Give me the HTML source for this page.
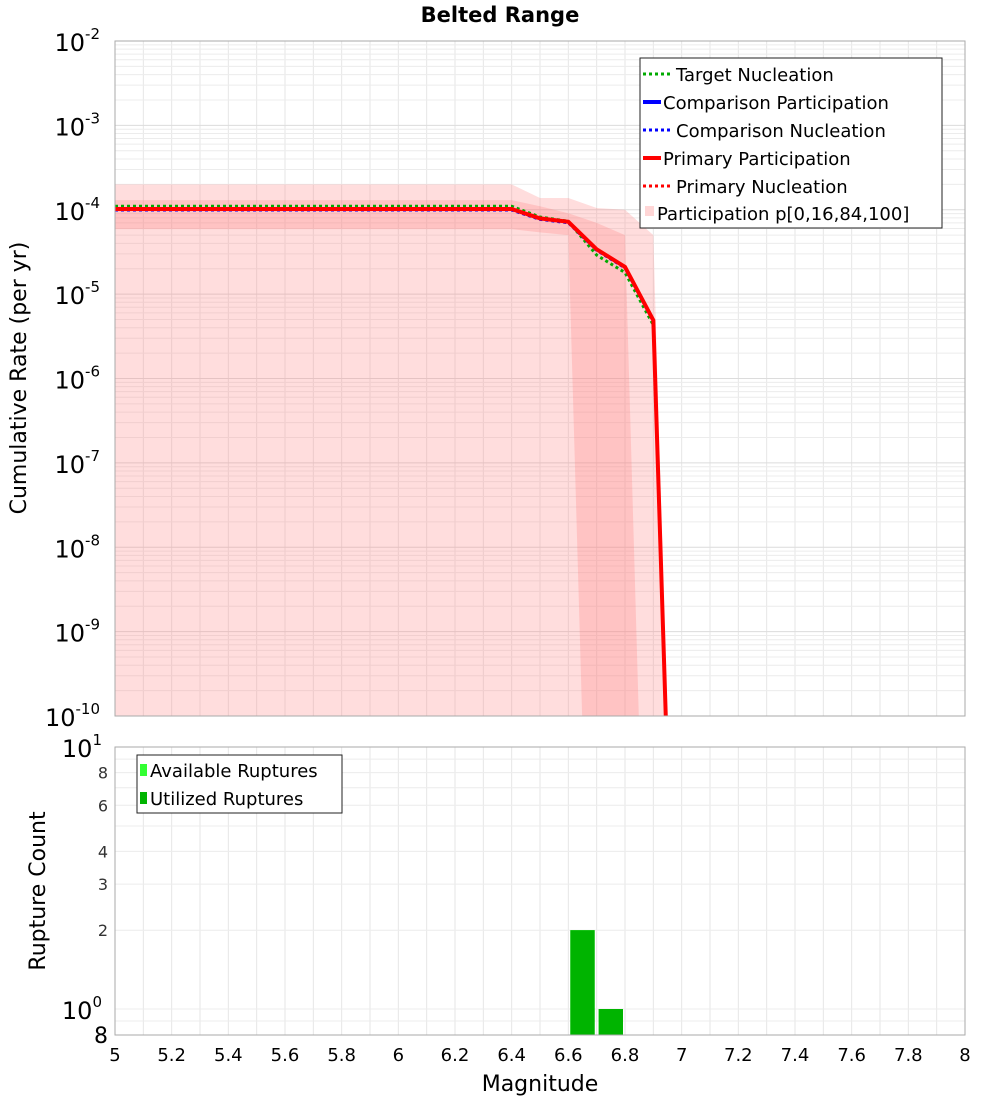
<!DOCTYPE html>
<html><head><meta charset="utf-8"><style>
body{margin:0;background:#fff;}
svg text{font-family:"DejaVu Sans","Liberation Sans",sans-serif;}
</style></head><body>
<svg id="c" width="1000" height="1100" xmlns="http://www.w3.org/2000/svg">
<defs>
<clipPath id="cp1"><rect x="115" y="41" width="850" height="675"/></clipPath>
<clipPath id="cp2"><rect x="115" y="747" width="850" height="288"/></clipPath>
</defs>
<g id="g"></g>
</svg>
<script>
const mags=[5.0,5.1,5.2,5.3,5.4,5.5,5.6,5.7,5.8,5.9,6.0,6.1,6.2,6.3,6.4,6.5,6.6,6.7,6.8,6.9,7.0];
const primaryPart=[1.02e-4,1.02e-4,1.02e-4,1.02e-4,1.02e-4,1.02e-4,1.02e-4,1.02e-4,1.02e-4,1.02e-4,1.02e-4,1.02e-4,1.02e-4,1.02e-4,1.02e-4,7.9e-5,7.2e-5,3.4e-5,2.1e-5,4.9e-6,0];
const targetNucl=[1.1e-4,1.1e-4,1.1e-4,1.1e-4,1.1e-4,1.1e-4,1.1e-4,1.1e-4,1.1e-4,1.1e-4,1.1e-4,1.1e-4,1.1e-4,1.1e-4,1.1e-4,8.2e-5,7.3e-5,2.9e-5,1.8e-5,4.3e-6,0];
const p0=[0,0,0,0,0,0,0,0,0,0,0,0,0,0,0,0,0,0,0,0,0];
const p100=[2.0e-4,2.0e-4,2.0e-4,2.0e-4,2.0e-4,2.0e-4,2.0e-4,2.0e-4,2.0e-4,2.0e-4,2.0e-4,2.0e-4,2.0e-4,2.0e-4,2.0e-4,1.38e-4,1.38e-4,1.05e-4,1.0e-4,5.0e-5,0];
const p16=[5.9e-5,5.9e-5,5.9e-5,5.9e-5,5.9e-5,5.9e-5,5.9e-5,5.9e-5,5.9e-5,5.9e-5,5.9e-5,5.9e-5,5.9e-5,5.9e-5,5.9e-5,5.4e-5,5.0e-5,0,0,0,0];
const p84=[1.3e-4,1.3e-4,1.3e-4,1.3e-4,1.3e-4,1.3e-4,1.3e-4,1.3e-4,1.3e-4,1.3e-4,1.3e-4,1.3e-4,1.3e-4,1.3e-4,1.3e-4,1.1e-4,9.1e-5,7.0e-5,5.0e-5,0,0];
const binStarts=[6.6,6.7];
const availCounts=[2,1];
const usedCounts=[2,1];
const xTicks=["5","5.2","5.4","5.6","5.8","6","6.2","6.4","6.6","6.8","7","7.2","7.4","7.6","7.8","8"];

const NS="http://www.w3.org/2000/svg";
const g=document.getElementById('g');
function el(tag,a,p){const e=document.createElementNS(NS,tag);for(const k in a)e.setAttribute(k,a[k]);(p||g).appendChild(e);return e;}
const X=m=>115+(m-5)*850/3;
const Y1=v=>{const l=v>0?Math.log10(v):-16;return 41+(-2-l)*84.375;};
const Y2=v=>1009-Math.log10(v)*261.8;

// grids
const grid=el('g',{});


for(let i=0;i<=30;i++){const x=X(5+i*0.1);
 el('line',{x1:x,x2:x,y1:41,y2:716,stroke:'#e6e6e6','stroke-width':1},grid);
 el('line',{x1:x,x2:x,y1:747,y2:1035,stroke:'#e6e6e6','stroke-width':1},grid);}
for(let d=-10;d<-2;d++)for(let k=1;k<10;k++){const y=Y1(k*Math.pow(10,d));el('line',{x1:115,x2:965,y1:y,y2:y,stroke:k==1?'#dcdcdc':'#ececec'},grid);}
for(const v of [0.9,1,2,3,4,5,6,7,8,9]){const y=Y2(v);el('line',{x1:115,x2:965,y1:y,y2:y,stroke:'#ececec'},grid);}

// bands
const topG=el('g',{'clip-path':'url(#cp1)'});
function band(lo,hi,fill,name){let d='M';mags.forEach((m,i)=>d+=X(m)+','+Y1(hi[i])+' L');for(let i=mags.length-1;i>=0;i--)d+=X(mags[i])+','+Y1(lo[i])+(i?' L':'');
 const p=el('path',{d:d+'Z',fill:fill},topG);
 
 }
band(p0,p100,'rgba(255,120,120,0.25)','band-p0-p100');
band(p16,p84,'rgba(255,120,120,0.25)','band-p16-p84');
function line(vals,stroke,w,dash,name,dy){const pts=mags.map((m,i)=>X(m)+','+(Y1(vals[i])+(dy||0))).join(' ');
 const p=el('polyline',{points:pts,fill:'none',stroke:stroke,'stroke-width':w,'stroke-dasharray':dash||'none'},topG);
 
 }
line(targetNucl,'#00aa00',3,'3,3','target-nucleation-line');
line(primaryPart,'#0000ff',3,'','comparison-participation-line',0);
line(primaryPart,'#0000ff',3,'3,3','comparison-nucleation-line',1);
line(primaryPart,'#ff0000',4,'','primary-participation-line');
line(primaryPart,'#ff0000',3,'3,3','primary-nucleation-line');

// bars
const bot=el('g',{'clip-path':'url(#cp2)'});
binStarts.forEach((b,i)=>{const x0=X(b)+2,x1=X(b+0.1)-2;
 const r=el('rect',{x:x0,y:Y2(availCounts[i]),width:x1-x0,height:1035-Y2(availCounts[i]),fill:'#33ff33'},bot);
 
 
 const r2=el('rect',{x:x0,y:Y2(usedCounts[i]),width:x1-x0,height:1035-Y2(usedCounts[i]),fill:'#00b400'},bot);
 
 });

// frames
el('rect',{x:115,y:41,width:850,height:675,fill:'none',stroke:'#aaaaaa'});
el('rect',{x:115,y:747,width:850,height:288,fill:'none',stroke:'#aaaaaa'});

function txt(attrs,content,name,parent){const e=el('text',attrs,parent);e.innerHTML=content;
 
 return e;}

// y ticks top
for(let d=-2;d>=-10;d--){const y=Y1(Math.pow(10,d));
 txt({x:100,y:y+10,'font-size':24,'text-anchor':'end'},'10<tspan dy="-12" font-size="15">'+d+'</tspan>','y-tick-label');}
// y ticks bottom
function t2(s,v,big){txt({x:big?102:108,y:Y2(v)+(big?10:6),'font-size':big?24:16,'text-anchor':'end',fill:big?'#000':'#333'},s,'y-tick-label-bottom');}
t2('10<tspan dy="-12" font-size="15">1</tspan>',10,true);t2('8',8);t2('6',6);t2('4',4);t2('3',3);t2('2',2);
t2('10<tspan dy="-12" font-size="15">0</tspan>',1,true);
txt({x:108,y:1043,'font-size':22,'text-anchor':'end'},'8','y-tick-label-bottom');
// x ticks
xTicks.forEach(s=>{txt({x:X(+s),y:1061,'font-size':18,'text-anchor':'middle'},s,'x-tick-label');});

// titles
txt({x:500,y:22,'font-size':21,'font-weight':'bold','text-anchor':'middle'},'Belted Range','chart-title');
txt({x:540,y:1091,'font-size':22,'text-anchor':'middle'},'Magnitude','x-axis-title');
txt({x:26,y:378,'font-size':22,'text-anchor':'middle',transform:'rotate(-90 26 378)'},'Cumulative Rate (per yr)','y-axis-title');
txt({x:45,y:891,'font-size':22,'text-anchor':'middle',transform:'rotate(-90 45 891)'},'Rupture Count','y-axis-title-bottom');

// legend top
const lg=el('g',{});


el('rect',{x:640,y:58,width:302,height:170,fill:'#fff',stroke:'#222'},lg);
const items=[['Target Nucleation','#00aa00','3,3',false],['Comparison Participation','#0000ff','',true],['Comparison Nucleation','#0000ff','3,3',false],['Primary Participation','#ff0000','',true],['Primary Nucleation','#ff0000','3,3',false]];
items.forEach((it,i)=>{const y=74+i*28;
 el('line',{x1:643,x2:it[3]?661:672,y1:y,y2:y,stroke:it[1],'stroke-width':it[3]?4:3,'stroke-dasharray':it[2]||'none'},lg);
 txt({x:it[3]?663:676,y:y+7,'font-size':18},it[0],'legend-entry',lg);});
el('rect',{x:645,y:206,width:9,height:10,fill:'rgba(255,120,120,0.3)'},lg);
txt({x:657,y:220,'font-size':18},'Participation p[0,16,84,100]','legend-entry',lg);

// legend bottom
const lg2=el('g',{});


el('rect',{x:137,y:755,width:205,height:58,fill:'#fff',stroke:'#222'},lg2);
el('rect',{x:140,y:764,width:7,height:12,fill:'#33ff33'},lg2);
el('rect',{x:140,y:792,width:7,height:12,fill:'#00b400'},lg2);
txt({x:150,y:777,'font-size':18},'Available Ruptures','legend-entry',lg2);
txt({x:150,y:805,'font-size':18},'Utilized Ruptures','legend-entry',lg2);
</script>
</body></html>
